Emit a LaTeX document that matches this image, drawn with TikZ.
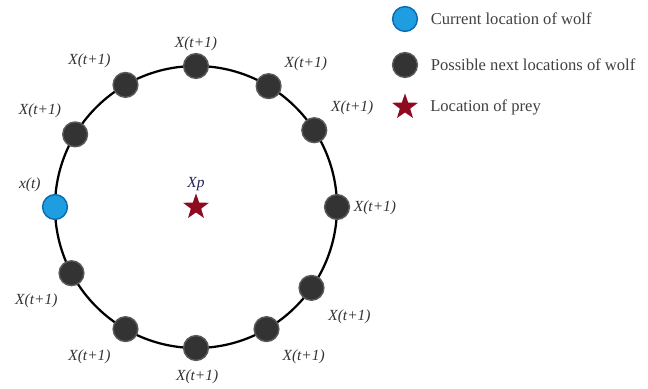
\documentclass[tikz,border=0pt]{standalone}
\usepackage{fontspec}
\setmainfont{Liberation Serif}
\usetikzlibrary{shapes.geometric,positioning}
\definecolor{wolfblue}{HTML}{1E9DE0}
\definecolor{wolfrim}{HTML}{0B6AAE}
\definecolor{dotgray}{HTML}{333333}
\definecolor{dotrim}{HTML}{5A5A5A}
\definecolor{preyred}{HTML}{8E0A1F}
\definecolor{labelgray}{HTML}{333333}
\definecolor{xpnavy}{HTML}{22225A}

\begin{document}
\begin{tikzpicture}[
    lbl/.style={font=\fontsize{11}{13}\selectfont\itshape, text=labelgray, inner sep=0pt},
    wolf/.style={circle, fill=wolfblue, draw=wolfrim, line width=1pt,
                 minimum size=0.62cm, inner sep=0pt},
    nextpos/.style={circle, fill=dotgray, draw=dotrim, line width=1pt,
                    minimum size=0.62cm, inner sep=0pt},
    prey/.style={star, star points=5, star point ratio=2.5, fill=preyred,
                 minimum size=0.68cm, inner sep=0pt},
    legtext/.style={font=\fontsize{11.8}{14}\selectfont, text=black!75, inner sep=0pt}
]
\useasboundingbox (0,0) rectangle (16.2,-9.7);
\coordinate (c) at (4.9,-5.175);
\draw[line width=1.6pt] (c) circle (3.525);

\node[nextpos] (p90) at ([shift={(90:3.525)}]c) {};
\node[lbl] at ([yshift=0.55cm]p90.center) {X(t+1)};
\node[nextpos] (p60) at ([shift={(59:3.525)}]c) {};
\node[lbl] at ([xshift=0.93cm,yshift=0.55cm]p60.center) {X(t+1)};
\node[nextpos] (p30) at ([shift={(33:3.525)}]c) {};
\node[lbl] at ([xshift=0.95cm,yshift=0.55cm]p30.center) {X(t+1)};
\node[nextpos] (p0) at ([shift={(0:3.525)}]c) {};
\node[lbl] at ([xshift=0.95cm,yshift=-0.03cm]p0.center) {X(t+1)};
\node[nextpos] (m35) at ([shift={(-35:3.525)}]c) {};
\node[lbl] at ([xshift=0.95cm,yshift=-0.72cm]m35.center) {X(t+1)};
\node[nextpos] (m60) at ([shift={(-60:3.525)}]c) {};
\node[lbl] at ([xshift=0.93cm,yshift=-0.7cm]m60.center) {X(t+1)};
\node[nextpos] (m90) at ([shift={(-90:3.525)}]c) {};
\node[lbl] at ([xshift=0.03cm,yshift=-0.72cm]m90.center) {X(t+1)};
\node[nextpos] (m120) at ([shift={(-120:3.525)}]c) {};
\node[lbl] at ([xshift=-0.9cm,yshift=-0.68cm]m120.center) {X(t+1)};
\node[nextpos] (m152) at ([shift={(-152:3.525)}]c) {};
\node[lbl] at ([xshift=-0.88cm,yshift=-0.7cm]m152.center) {X(t+1)};
\node[wolf] (cur) at ([shift={(180:3.525)}]c) {};
\node[lbl] at ([xshift=-0.63cm,yshift=0.55cm]cur.center) {x(t)};
\node[nextpos] (p150) at ([shift={(149:3.525)}]c) {};
\node[lbl] at ([xshift=-0.88cm,yshift=0.58cm]p150.center) {X(t+1)};
\node[nextpos] (p120) at ([shift={(120:3.525)}]c) {};
\node[lbl] at ([xshift=-0.9cm,yshift=0.6cm]p120.center) {X(t+1)};

\node[prey] (xp) at (c) {};
\node[lbl, text=xpnavy] at ([yshift=0.58cm]xp.center) {Xp};

\node[wolf] (lc) at (10.125,-0.475) {};
\node[legtext, right=0.31cm of lc] {Current location of wolf};
\node[nextpos] (ln) at (10.125,-1.625) {};
\node[legtext, right=0.31cm of ln] {Possible next locations of wolf};
\node[prey] (lp) at (10.125,-2.675) {};
\node[legtext, anchor=west] at ([xshift=0.625cm]lp.center) {Location of prey};
\end{tikzpicture}
\end{document}
